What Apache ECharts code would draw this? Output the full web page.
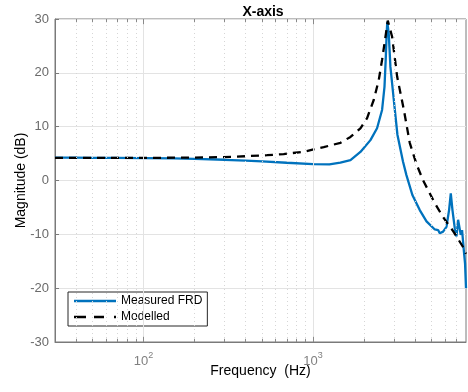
<!DOCTYPE html>
<html>
<head>
<meta charset="utf-8">
<script src="https://cdn.jsdelivr.net/npm/echarts@6/dist/echarts.min.js"></script>
<style>
html,body{margin:0;padding:0;background:#fff;}
#chart{width:468px;height:392px;}
</style>
</head>
<body>
<div id="chart"></div>
<script>
// ---- data ----
const measuredFreq = [30,40,50,70,100,150,200,300,400,500,700,1000,1250,1450,1664,1905,2183,2388,2557,2642,2686,2721,2745,2799,2864,2998,3150,3400,3560,3860,4267,4677,5234,5355,5475,5600,5859,6134,6356,6505,6656,6870,7030,7185,7350,7450,7585,7762,7900,8000];
const measuredMag  = [4.25,4.25,4.2,4.2,4.15,4.1,4.0,3.85,3.7,3.55,3.3,3.05,3.0,3.3,3.8,5.3,7.5,9.7,13.1,17.4,22.4,27.3,29.5,27.3,21.1,15.0,8.5,3.5,1.0,-2.7,-5.5,-7.6,-9.1,-9.4,-9.2,-9.8,-9.5,-8.6,-5.5,-2.4,-5.5,-8.9,-10.4,-7.3,-7.3,-10.1,-9.2,-12.9,-15.5,-20.0];
const modelFreq = [30,100,200,340,535,671,881,1157,1452,1664,1905,2086,2285,2445,2557,2678,2763,2931,3138,3439,3725,4085,4470,5234,5860,6716,7700,8000];
const modelMag  = [4.2,4.2,4.25,4.4,4.7,4.9,5.35,6.2,7.0,8.1,9.7,11.6,15.0,18.7,22.4,26.7,29.7,26.7,19.3,13.1,7.0,3.0,0.0,-4.2,-6.8,-9.4,-12.4,-13.6];
const seriesNames = ['Measured FRD','Modelled'];
const majorXTicks = [100,1000];
const minorXTicks = [40,50,60,70,80,90,200,300,400,500,600,700,800,900,2000,3000,4000,5000,6000,7000];
const titleText = 'X-axis';
const xName = 'Frequency  (Hz)';
const yName = 'Magnitude (dB)';

const chart = echarts.init(document.getElementById('chart'), null, {renderer:'canvas'});
const FONT = 'Liberation Sans, Arial, sans-serif';
const gridColor = '#e3e3e3';
const axisColor = '#7a7a7a';

const minorGrid = minorXTicks.map(f => ({xAxis: f}));
const majorGrid = majorXTicks.map(f => ({xAxis: f}));
const tickLen = 0.6;
const minorTickMarks = [];
minorXTicks.forEach(f => {
  minorTickMarks.push([{coord:[f,-30]},{coord:[f,-30+tickLen]}]);
  minorTickMarks.push([{coord:[f,30]},{coord:[f,30-tickLen]}]);
});
const majorTickMarks = [];
majorXTicks.forEach(f => {
  majorTickMarks.push([{coord:[f,-30]},{coord:[f,-30+tickLen*1.6]}]);
  majorTickMarks.push([{coord:[f,30]},{coord:[f,30-tickLen*1.6]}]);
});

const solidIcon = 'path://M0 0h42v2.4h-42z';
const dashIcon = 'path://M0 0h12v2.4h-12z M20 0h10v2.4h-10z M40 0h2v2.4h-2z';

chart.setOption({
  animation:false,
  backgroundColor:'#fff',
  title:{text:titleText,left:258,top:0,textAlign:'center',
    textStyle:{fontFamily:FONT,fontSize:14,fontWeight:'bold',color:'#000'}},
  grid:{left:55,right:2,top:19,bottom:50,show:true,borderColor:axisColor,borderWidth:1,backgroundColor:'#fff'},
  legend:{
    orient:'vertical',left:68,top:292,
    data:[{name:seriesNames[0],icon:solidIcon},{name:seriesNames[1],icon:dashIcon}],
    itemWidth:42,itemHeight:10,itemGap:4,
    borderColor:'#262626',borderWidth:1,backgroundColor:'#fff',
    padding:[3,5,3,6],
    textStyle:{fontFamily:FONT,fontSize:12,color:'#000'}
  },
  xAxis:{
    type:'log',logBase:10,min:30,max:8000,
    name:xName,nameLocation:'middle',nameGap:22,nameMoveOverlap:false,
    nameTextStyle:{fontFamily:FONT,fontSize:14,color:'#000'},
    axisLine:{show:true,onZero:false,lineStyle:{color:axisColor}},
    axisTick:{show:false},
    splitLine:{show:false},
    minorTick:{show:false},
    axisLabel:{
      margin:9,showMinLabel:false,showMaxLabel:false,
      formatter:function(v){
        const e = Math.round(Math.log10(v));
        if (Math.abs(v - Math.pow(10,e)) < 1e-6*v && majorXTicks.indexOf(Math.pow(10,e))>=0) return '{b|10}{s|'+e+'}';
        return '';
      },
      rich:{
        b:{fontFamily:FONT,fontSize:13,color:'#808080',verticalAlign:'bottom'},
        s:{fontFamily:FONT,fontSize:9,color:'#808080',verticalAlign:'top',padding:[0,0,8,0]}
      }
    }
  },
  yAxis:{
    type:'value',min:-30,max:30,interval:10,
    name:yName,nameLocation:'middle',nameGap:27,nameMoveOverlap:false,
    nameTextStyle:{fontFamily:FONT,fontSize:14,color:'#000'},
    axisLine:{show:true,lineStyle:{color:axisColor}},
    axisTick:{show:true,inside:true,length:4,lineStyle:{color:axisColor}},
    splitLine:{show:true,lineStyle:{color:gridColor,width:1}},
    axisLabel:{fontFamily:FONT,fontSize:13,color:'#6a6a6a',margin:6}
  },
  series:[
    {
      name:'grid-helper',type:'line',data:[],silent:true,z:1,legendHoverLink:false,
      markLine:{
        silent:true,symbol:'none',label:{show:false},animation:false,
        data:[
          ...minorGrid.map(d=>Object.assign({lineStyle:{color:'#d6d6d6',type:[1,3],width:1}},d)),
          ...majorGrid.map(d=>Object.assign({lineStyle:{color:gridColor,type:'solid',width:1}},d)),
          ...minorTickMarks.map(d=>[Object.assign({lineStyle:{color:'#8a8a8a',type:'solid',width:1}},d[0]),d[1]]),
          ...majorTickMarks.map(d=>[Object.assign({lineStyle:{color:'#8a8a8a',type:'solid',width:1}},d[0]),d[1]])
        ]
      }
    },
    {
      name:seriesNames[0],type:'line',showSymbol:false,symbol:'none',z:3,
      data:measuredFreq.map((f,i)=>[f,measuredMag[i]]),
      lineStyle:{color:'#0072BD',width:2.3},itemStyle:{color:'#0072BD'}
    },
    {
      name:seriesNames[1],type:'line',showSymbol:false,symbol:'none',z:4,
      data:modelFreq.map((f,i)=>[f,modelMag[i]]),
      lineStyle:{color:'#000',width:2.3,type:[8,6]},itemStyle:{color:'#000'}
    }
  ]
});
</script>
</body>
</html>
